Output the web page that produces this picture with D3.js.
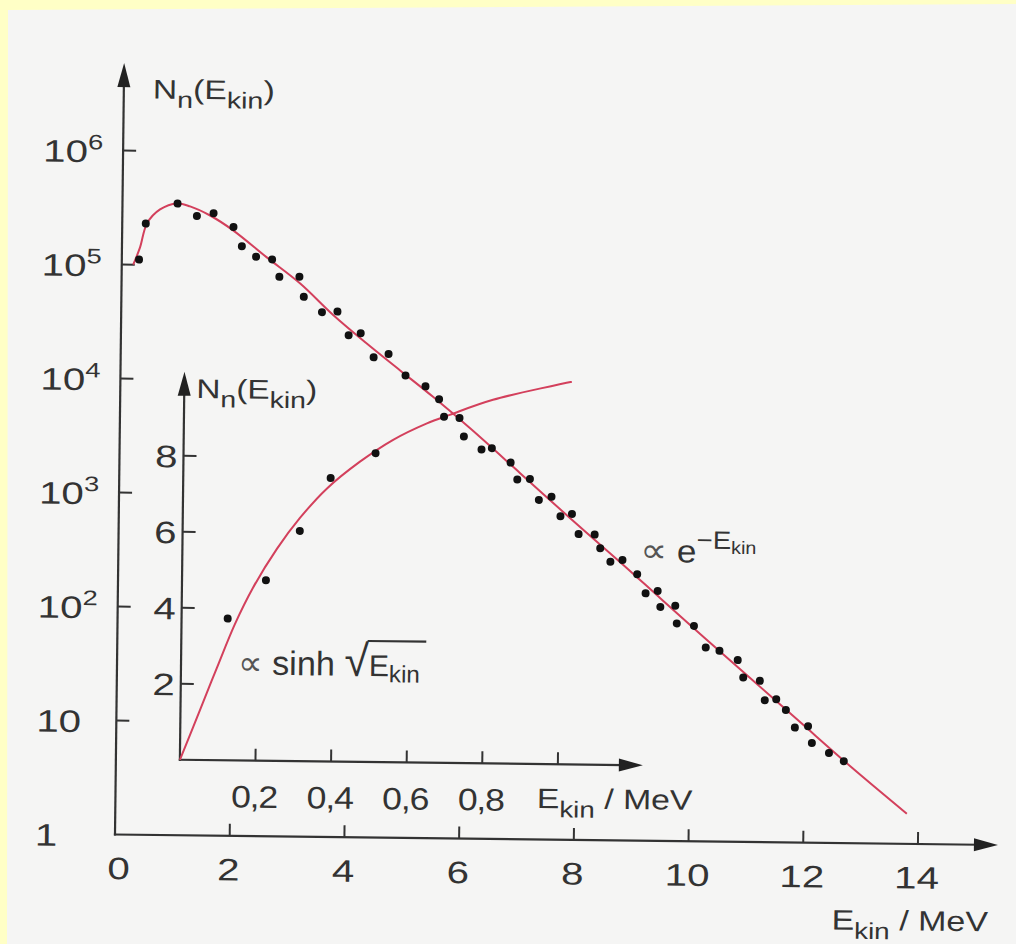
<!DOCTYPE html>
<html><head><meta charset="utf-8">
<script src="https://cdn.jsdelivr.net/npm/d3@7/dist/d3.min.js"></script>
<style>html,body{margin:0;padding:0;background:#ffffc6;}svg{display:block;}</style>
</head><body>
<svg id="chart" width="1016" height="944"></svg>
<script>
// ---------- data ----------
const dataE = [0.30,0.41,0.96,1.30,1.59,1.94,2.09,2.34,2.62,2.75,3.10,3.18,3.50,3.77,3.97,4.18,4.41,4.67,4.97,5.32,5.56,5.65,5.92,6.00,6.31,6.49,6.82,6.94,7.16,7.32,7.54,7.70,7.90,8.02,8.30,8.40,8.58,8.79,9.05,9.20,9.41,9.46,9.72,9.75,10.05,10.26,10.50,10.82,10.92,11.21,11.30,11.50,11.67,11.83,12.06,12.13,12.43,12.69];
const dataN = [1.11e5,2.30e5,3.47e5,2.71e5,2.88e5,2.19e5,1.49e5,1.21e5,1.15e5,8.1e4,8.15e4,5.44e4,4.01e4,4.07e4,2.53e4,2.64e4,1.63e4,1.75e4,1.14e4,9.19e3,7.11e3,5.0e3,4.89e3,3.37e3,2.60e3,2.68e3,2.01e3,1.43e3,1.45e3,953,1020,689,724,482,479,364,278,289,217,148,156,113,116,81.3,77.6,50.3,47.2,39.3,27.7,26.0,17.6,18.0,14.5,10.2,10.5,7.5,6.15,5.24];
const fitE = [0.20,0.315,0.432,0.656,0.951,1.179,1.530,1.934,2.533,3.115,3.696,4.293,4.875,5.459,6.112,6.993,7.875,8.757,9.462,10.17,11.05,11.93,12.81,13.80];
const fitN = [1.0e5,1.42e5,2.31e5,3.07e5,3.48e5,3.29e5,2.75e5,2.05e5,1.19e5,7.12e4,3.80e4,2.14e4,1.26e4,7.41e3,3.96e3,1.62e3,659,275,134,65.3,27.2,11.3,4.71,1.84];
const insetDataE = [0.122,0.222,0.31,0.39,0.508];
const insetDataN = [3.73,4.75,6.06,7.46,8.13];
const insetFitE = [0,0.026,0.051,0.095,0.141,0.188,0.25,0.31,0.38,0.467,0.553,0.643,0.703,0.817,1.025];
const insetFitN = [0,0.66,1.30,2.43,3.58,4.55,5.58,6.40,7.18,7.90,8.48,8.93,9.16,9.57,10.07];

const xTickValues = [2,4,6,8,10,12,14];
const xLabelValues = [0,2,4,6,8,10,12,14];
const yTickValues = [10,1e2,1e3,1e4,1e5,1e6];
const yLabelValues = [1,10,1e2,1e3,1e4,1e5,1e6];
const yLabelBase = ["1","10","10","10","10","10","10"];
const yLabelExp = ["","","2","3","4","5","6"];
const insetXTickValues = [0.2,0.4,0.6,0.8,1.0];
const insetXLabelValues = [0.2,0.4,0.6,0.8];
const insetXLabels = ["0,2","0,4","0,6","0,8"];
const insetYTickValues = [2,4,6,8];
const insetYLabels = ["2","4","6","8"];

// ---------- drawing ----------
const FONT = "'Liberation Sans', Arial, Helvetica, sans-serif";
const INK = "#333";
const RED = "#d3405c";
const svg = d3.select("#chart");
svg.append("rect").attr("width",1016).attr("height",944).attr("fill","#ffffc6");
svg.append("polygon").attr("points","8,10 1016,4 1016,944 7,944").attr("fill","#f5f5f4");

const g = svg.append("g").attr("transform","rotate(0.68,115,834)");

const x = d3.scaleLinear().domain([0,14]).range([115,918]);
const y = d3.scaleLog().domain([1,1e6]).range([834.5,150.5]);
const ix = d3.scaleLinear().domain([0,1]).range([179,557]);
const iy = d3.scaleLinear().domain([0,10]).range([759,379]);

function arrowAxis(x1,y1,x2,y2){
  const L=24, W=6.5;
  const dx=x2-x1, dy=y2-y1, len=Math.hypot(dx,dy), ux=dx/len, uy=dy/len;
  const bx=x2-ux*L, by=y2-uy*L;
  g.append("line").attr("x1",x1).attr("y1",y1).attr("x2",bx+ux*4).attr("y2",by+uy*4)
    .attr("stroke",INK).attr("stroke-width",2.2).attr("stroke-linecap","square");
  g.append("polygon").attr("points",[[x2,y2],[bx-uy*W,by+ux*W],[bx+uy*W,by-ux*W]].map(p=>p.join(",")).join(" "))
    .attr("fill","#222");
}
function tick(x1,y1,x2,y2){
  g.append("line").attr("x1",x1).attr("y1",y1).attr("x2",x2).attr("y2",y2)
    .attr("stroke",INK).attr("stroke-width",2);
}
function addText(x0,y0,anchor,parts,opt){
  opt = opt||{};
  const gg = g.append("g").attr("transform",`translate(${x0},${y0})`);
  const t = gg.append("text").attr("text-anchor",anchor).attr("fill",opt.color||INK)
    .style("font-family",FONT);
  if (opt.ls) t.attr("letter-spacing",opt.ls);
  let cur=0;
  parts.forEach(p=>{
    const sp=t.append("tspan").text(p.t).attr("font-size",p.s);
    const sh=p.dy||0;
    if (sh-cur!==0) sp.attr("dy",sh-cur);
    cur=sh;
    if (p.f) sp.style("font-family",p.f);
    if (p.c) sp.attr("fill",p.c);
  });
  let sx = opt.sx||1;
  if (opt.w){ sx = opt.w / t.node().getBBox().width; }
  gg.attr("transform",`translate(${x0},${y0}) scale(${sx},1)`);
  return {gg,t,sx};
}

// main axes
arrowAxis(x(0), y(1), 115, 63);
arrowAxis(x(0), y(1), 998, y(1));
yTickValues.forEach(v=>tick(x(0), y(v), x(0)+13, y(v)));
xTickValues.forEach(v=>tick(x(v), y(1), x(v), y(1)-12));

// main tick labels
const SX = 1.3;
yLabelValues.forEach((v,i)=>{
  const parts=[{t:yLabelBase[i], s:31}];
  if (yLabelExp[i]) parts.push({t:yLabelExp[i], s:21, dy:-13});
  addText(35, y(v)+12, "start", parts, {sx:SX});
});
xLabelValues.forEach(v=>{
  addText(v===0 ? x(0)+4 : x(v)-1, 879, "middle", [{t:String(v), s:31}], {sx:SX});
});

// main titles
addText(144, 98, "start", [{t:"N",s:27},{t:"n",s:23,dy:9},{t:"(",s:27},{t:"E",s:27},{t:"kin",s:23,dy:9},{t:")",s:27}], {w:122});
addText(989, 921, "end", [{t:"E",s:28},{t:"kin",s:23,dy:9},{t:" / MeV",s:28}], {w:157});

// inset axes
arrowAxis(ix(0), iy(0), ix(0), 371);
arrowAxis(ix(0), iy(0), 642, iy(0));
insetYTickValues.forEach(v=>tick(ix(0), iy(v), ix(0)+13, iy(v)));
insetXTickValues.forEach(v=>tick(ix(v), iy(0), ix(v), iy(0)-12));
insetYLabels.forEach((s,i)=>addText(173, iy(insetYTickValues[i])+11.5, "end", [{t:s,s:31}], {sx:SX}));
insetXLabels.forEach((s,i)=>addText(ix(insetXLabelValues[i])-1, 806, "middle", [{t:s,s:31}], {sx:1.15, ls:-1}));
addText(191, 397, "start", [{t:"N",s:27},{t:"n",s:23,dy:9},{t:"(",s:27},{t:"E",s:27},{t:"kin",s:23,dy:9},{t:")",s:27}], {w:121});
addText(536.5, 803, "start", [{t:"E",s:28},{t:"kin",s:23,dy:9},{t:" / MeV",s:28}], {w:156});

// curves
const mainLine = d3.line().x(d=>x(d[0])).y(d=>y(d[1])).curve(d3.curveCatmullRom.alpha(0.5));
g.append("path").attr("d", mainLine(d3.zip(fitE,fitN))).attr("fill","none")
  .attr("stroke",RED).attr("stroke-width",2);
const insetLine = d3.line().x(d=>ix(d[0])).y(d=>iy(d[1])).curve(d3.curveCatmullRom.alpha(0.5));
g.append("path").attr("d", insetLine(d3.zip(insetFitE,insetFitN))).attr("fill","none")
  .attr("stroke",RED).attr("stroke-width",2);

// dots
g.selectAll("circle.m").data(d3.zip(dataE,dataN)).join("circle").attr("class","m")
  .attr("cx",d=>x(d[0])).attr("cy",d=>y(d[1])).attr("r",4).attr("fill","#111");
g.selectAll("circle.i").data(d3.zip(insetDataE,insetDataN)).join("circle").attr("class","i")
  .attr("cx",d=>ix(d[0])).attr("cy",d=>iy(d[1])).attr("r",4).attr("fill","#111");

// annotations
const a1 = addText(236, 673, "start", [
  {t:"\u221D", s:34, f:"'DejaVu Sans', sans-serif", c:"#555"},
  {t:" sinh ", s:34},
  {t:"\u221A", s:44},
  {t:"E", s:30},
  {t:"kin", s:24, dy:6}
], {w:182});
(function(){
  const n=a1.t.node();
  const r = n.getExtentOfChar(7);
  const last = n.getExtentOfChar(n.getNumberOfChars()-1);
  a1.gg.append("line").attr("x1", r.x + r.width - 1.5).attr("x2", last.x + last.width + 6)
    .attr("y1", -35).attr("y2", -35).attr("stroke", INK).attr("stroke-width", 2.2);
})();
addText(637, 555.6, "start", [
  {t:"\u221D", s:34, f:"'DejaVu Sans', sans-serif", c:"#555"},
  {t:" e", s:32},
  {t:"\u2212E", s:25, dy:-14},
  {t:"kin", s:18, dy:-9}
], {w:116});
</script>
</body></html>
